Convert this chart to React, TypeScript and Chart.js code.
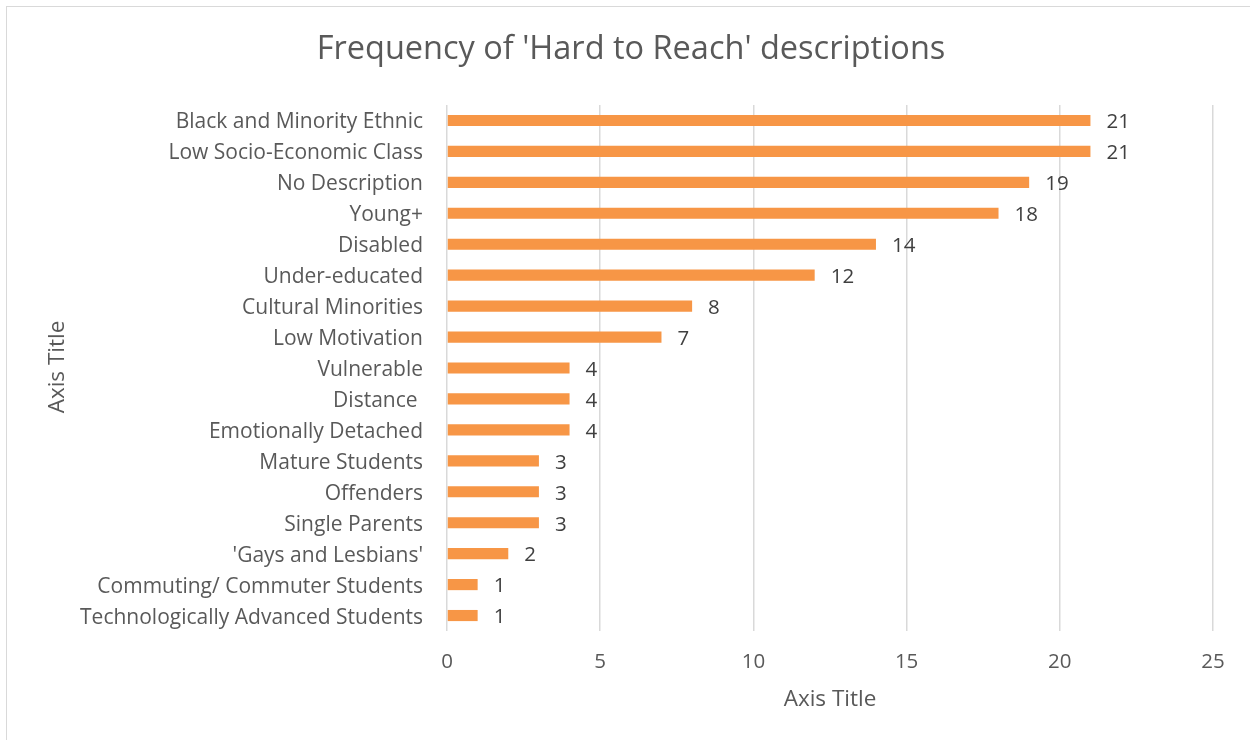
import React, { useEffect, useRef } from "react";
import { Chart, registerables } from "chart.js";

Chart.register(...registerables);

const categories = [
  "Black and Minority Ethnic",
  "Low Socio-Economic Class",
  "No Description",
  "Young+",
  "Disabled",
  "Under-educated",
  "Cultural Minorities",
  "Low Motivation",
  "Vulnerable",
  "Distance ",
  "Emotionally Detached",
  "Mature Students",
  "Offenders",
  "Single Parents",
  "'Gays and Lesbians'",
  "Commuting/ Commuter Students",
  "Technologically Advanced Students",
];
const values = [21, 21, 19, 18, 14, 12, 8, 7, 4, 4, 4, 3, 3, 3, 2, 1, 1];
const xTicks = [0, 5, 10, 15, 20, 25];

const chartTitle = "Frequency of 'Hard to Reach' descriptions";
const xAxisTitle = "Axis Title";
const yAxisTitle = "Axis Title";

const FONT = "'Open Sans', 'Noto Sans', sans-serif";

const textPlugin = {
  id: "textPlugin",
  afterDraw(chart: any) {
    const ctx = chart.ctx;
    ctx.save();
    // title
    ctx.fillStyle = "#595959";
    ctx.font = `32.5px ${FONT}`;
    ctx.textAlign = "center";
    ctx.textBaseline = "middle";
    ctx.fillText(chartTitle, 631, 50);
    // x axis title
    ctx.font = `22.5px ${FONT}`;
    ctx.fillText(xAxisTitle, 830, 700);
    // y axis title
    ctx.save();
    ctx.translate(58, 367);
    ctx.rotate(-Math.PI / 2);
    ctx.fillText(yAxisTitle, 0, 0);
    ctx.restore();
    // data labels
    const meta = chart.getDatasetMeta(0);
    ctx.fillStyle = "#404040";
    ctx.font = `20.5px ${FONT}`;
    ctx.textAlign = "left";
    ctx.textBaseline = "middle";
    meta.data.forEach((bar: any, i: number) => {
      ctx.fillText(String(values[i]), bar.x + 16, bar.y + 2);
    });
    ctx.restore();
  },
};

export default function App() {
  const ref = useRef<HTMLCanvasElement>(null);
  useEffect(() => {
    if (!ref.current) return;
    const chart = new Chart(ref.current, {
      type: "bar",
      data: {
        labels: categories,
        datasets: [
          {
            data: values,
            backgroundColor: "#F79646",
            borderWidth: 0,
            categoryPercentage: 0.36,
            barPercentage: 1,
          },
        ],
      },
      options: {
        indexAxis: "y",
        animation: false,
        responsive: false,
        maintainAspectRatio: false,
        layout: { padding: { top: 105, left: 0, right: 37, bottom: 0 } },
        plugins: {
          legend: { display: false },
          title: { display: false },
          tooltip: { enabled: false },
        },
        scales: {
          x: {
            min: 0,
            max: 25,
            afterBuildTicks: (scale: any) => {
              scale.ticks = xTicks.map((v) => ({ value: v }));
            },
            afterFit: (scale: any) => {
              scale.height = 109;
            },
            grid: { color: "#d9d9d9", lineWidth: 1.5, drawTicks: false },
            border: { display: false },
            ticks: {
              color: "#595959",
              font: { family: FONT, size: 20.5 },
              padding: 19,
            },
          },
          y: {
            afterFit: (scale: any) => {
              scale.width = 447;
            },
            grid: { display: false, drawTicks: false },
            border: { display: false },
            ticks: {
              color: "#595959",
              font: { family: FONT, size: 21 },
              padding: 24,
              labelOffset: 2,
              autoSkip: false,
            },
          },
        },
      },
      plugins: [textPlugin],
    });
    return () => chart.destroy();
  }, []);

  return (
    <div
      style={{
        position: "absolute",
        left: 0,
        top: 0,
        width: 1250,
        height: 740,
        background: "#fff",
      }}
    >
      <div
        style={{
          position: "absolute",
          left: 6,
          top: 6,
          width: 1260,
          height: 750,
          border: "1.5px solid #d9d9d9",
          boxSizing: "border-box",
        }}
      />
      <canvas
        ref={ref}
        width={1250}
        height={740}
        style={{ position: "absolute", left: 0, top: 0, width: 1250, height: 740 }}
      />
    </div>
  );
}
